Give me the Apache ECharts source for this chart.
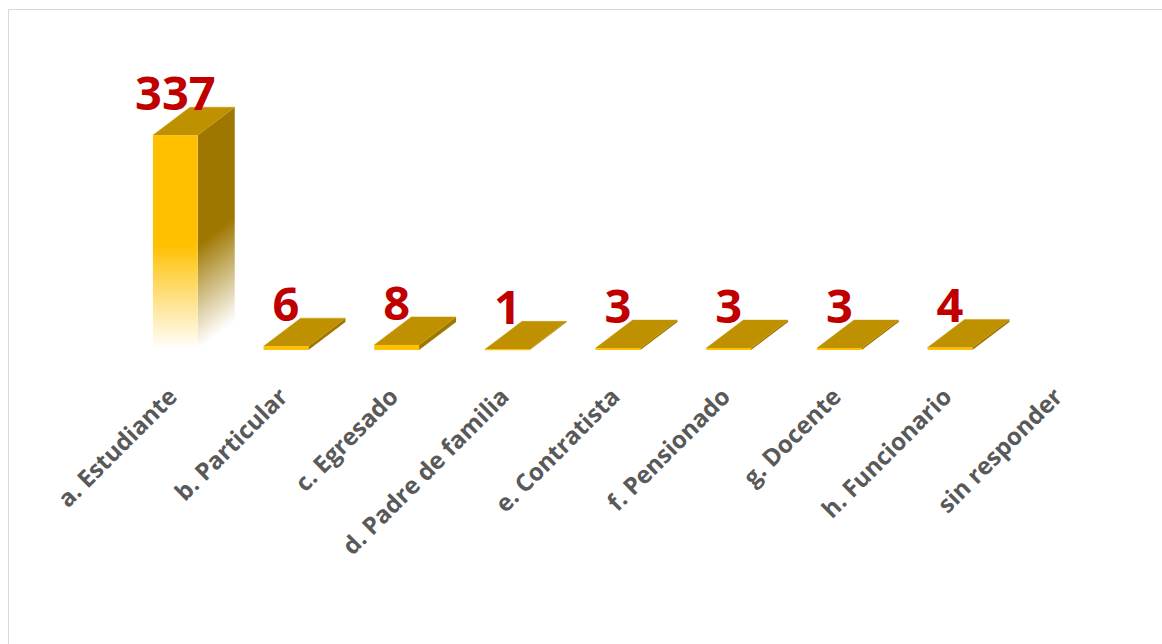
<!DOCTYPE html>
<html>
<head>
<meta charset="utf-8">
<script src="https://cdn.jsdelivr.net/npm/echarts@6/dist/echarts.min.js"></script>
<style>
  html, body { margin: 0; padding: 0; background: #fff; overflow: hidden; }
  #frame { position: absolute; left: 8px; top: 9px; width: 1200px; height: 700px; border: 1px solid #D9D9D9; box-sizing: border-box; }
  #chart { position: absolute; left: 0; top: 0; width: 1162px; height: 644px; }
</style>
</head>
<body>
<div id="frame"></div>
<div id="chart"></div>
<script>
const categories = [
  'a. Estudiante', 'b. Particular', 'c. Egresado', 'd. Padre de familia',
  'e. Contratista', 'f. Pensionado', 'g. Docente', 'h. Funcionario', 'sin responder'
]
const counts = [337, 6, 8, 1, 3, 3, 3, 4, 0]

// 3D look: pixel offset of the back face
const DX = 37
const DY = -28
const FADE = 105
const WHITE = 'rgba(255,255,255,0.95)'

function frontFill(h) {
  if (h <= FADE) return '#FFC000'
  return {
    type: 'linear', x: 0, y: 0, x2: 0, y2: 1,
    colorStops: [
      { offset: 0, color: '#FFC000' },
      { offset: 1 - FADE / h, color: '#FFC000' },
      { offset: 1, color: WHITE },
    ],
  }
}

// side face fades along the slanted bottom edge
function sideFill(h, x, y) {
  if (h <= FADE) return '#9E7700'
  const len = Math.hypot(DX, DY)
  const nx = -DY / len, ny = DX / len
  const d = FADE * ny
  return {
    type: 'linear', global: true,
    x: x - nx * d, y: y - ny * d, x2: x, y2: y,
    colorStops: [
      { offset: 0, color: '#9E7700' },
      { offset: 1, color: WHITE },
    ],
  }
}

function renderItem(params, api) {
  const v = api.value(1)
  if (!v) return null // nothing drawn for empty category
  const top = api.coord([api.value(0), v])
  const base = api.coord([api.value(0), 0])
  const w = api.size([1, 0])[0] * 0.405
  const x0 = top[0] - w / 2, x1 = top[0] + w / 2
  const y0 = top[1], y1 = base[1]
  const h = y1 - y0
  return {
    type: 'group',
    children: [
      {
        type: 'polygon',
        shape: { points: [[x1, y0], [x1 + DX, y0 + DY], [x1 + DX, y1 + DY], [x1, y1]] },
        style: { fill: sideFill(h, x1, y1) },
      },
      {
        type: 'polygon',
        shape: { points: [[x0, y0], [x1, y0], [x1 + DX, y0 + DY], [x0 + DX, y0 + DY]] },
        style: { fill: '#BF9000', stroke: '#C99A10', lineWidth: 0.5 },
      },
      {
        type: 'rect',
        shape: { x: x0, y: y0, width: w, height: Math.max(h, 1) },
        style: { fill: frontFill(h) },
      },
      {
        type: 'text',
        style: {
          text: String(v),
          x: top[0], y: y0 - 43,
          align: 'center', verticalAlign: 'middle',
          font: 'bold 47px "Open Sans"',
          fill: '#C00000',
        },
      },
    ],
  }
}

const chart = echarts.init(document.getElementById('chart'), null, { renderer: 'svg' })
chart.setOption({
  backgroundColor: 'transparent',
  animation: false,
  grid: { left: 120, right: 46, top: 95, bottom: 294 },
  xAxis: {
    type: 'category',
    data: categories,
    axisLine: { show: false },
    axisTick: { show: false },
    axisLabel: {
      interval: 0, rotate: 45, margin: 38, padding: [0, 5, 0, 0],
      color: '#595959', fontWeight: 'bold', fontSize: 24, fontFamily: 'Open Sans',
    },
  },
  yAxis: { type: 'value', min: 0, max: 400, show: false },
  series: [{
    type: 'custom',
    renderItem: renderItem,
    encode: { x: 0, y: 1 },
    data: counts.map((v, i) => [i, v]),
  }],
})
</script>
</body>
</html>
